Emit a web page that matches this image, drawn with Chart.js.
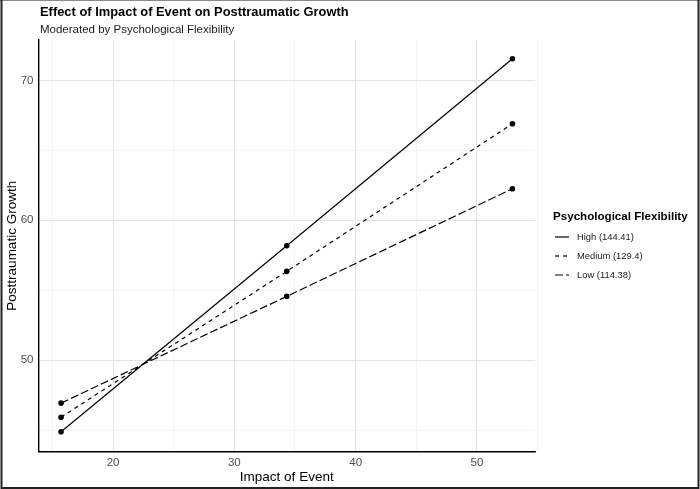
<!DOCTYPE html>
<html>
<head>
<meta charset="utf-8">
<script src="https://cdn.jsdelivr.net/npm/chart.js@4/dist/chart.umd.min.js"></script>
<style>
  html, body { margin: 0; padding: 0; background: #fff; }
  #wrap { width: 700px; height: 489px; position: relative; }
</style>
</head>
<body>
<div id="wrap"><canvas id="c" width="700" height="489"></canvas></div>
<script>
// ---- data ----
const impactLevels = [15.71, 34.32, 52.93];
const seriesNames = ['High (144.41)', 'Medium (129.4)', 'Low (114.38)'];
const highValues = [44.88, 58.18, 71.55];
const mediumValues = [45.92, 56.35, 66.90];
const lowValues = [46.93, 54.56, 62.26];
const xGridTicks = [15, 20, 25, 30, 35, 40, 45, 50, 55];
const xTickLabels = [20, 30, 40, 50];
const yGridTicks = [45, 50, 55, 60, 65, 70];
const yTickLabels = [50, 60, 70];
const chartTitle = 'Effect of Impact of Event on Posttraumatic Growth';
const chartSubtitle = 'Moderated by Psychological Flexibility';
const legendTitle = 'Psychological Flexibility';
const xTitle = 'Impact of Event';
const yTitle = 'Posttraumatic Growth';

const FONT = "'Liberation Sans', Arial, Helvetica, sans-serif";
const dashes = [[], [4, 4], [8, 3]];
const seriesValues = [highValues, mediumValues, lowValues];

const datasets = seriesValues.map((vals, i) => ({
  label: seriesNames[i],
  data: impactLevels.map((x, j) => ({ x: x, y: vals[j] })),
  borderColor: '#000',
  backgroundColor: '#000',
  borderWidth: 1.2,
  borderDash: dashes[i],
  pointRadius: 2.8,
  pointHoverRadius: 2.8,
  pointBorderWidth: 0,
  pointBackgroundColor: '#000',
  showLine: true,
  fill: false,
  tension: 0
}));

const gridColor = ctx => (ctx.tick && ctx.tick.value % 10 === 0) ? '#e4e4e4' : '#efefef';
const gridWidth = ctx => (ctx.tick && ctx.tick.value % 10 === 0) ? 1 : 0.7;

const decorPlugin = {
  id: 'decor',
  afterDraw(chart) {
    const ctx = chart.ctx;
    ctx.save();
    // titles
    ctx.fillStyle = '#000';
    ctx.textAlign = 'left';
    ctx.textBaseline = 'alphabetic';
    ctx.font = 'bold 12.9px ' + FONT;
    ctx.fillText(chartTitle, 40, 15.5);
    ctx.font = '11.5px ' + FONT;
    ctx.fillStyle = '#1a1a1a';
    ctx.fillText(chartSubtitle, 40, 32.5);

    // legend
    ctx.fillStyle = '#000';
    ctx.font = 'bold 11.6px ' + FONT;
    ctx.fillText(legendTitle, 553, 219.5);
    const ys = [237, 256, 275];
    ctx.font = '9.4px ' + FONT;
    ctx.textBaseline = 'middle';
    seriesNames.forEach((name, i) => {
      ctx.beginPath();
      ctx.setLineDash(dashes[i]);
      ctx.lineWidth = 1.2;
      ctx.strokeStyle = '#000';
      ctx.moveTo(555, ys[i]);
      ctx.lineTo(569, ys[i]);
      ctx.stroke();
      ctx.setLineDash([]);
      ctx.fillStyle = '#1a1a1a';
      ctx.fillText(name, 577, ys[i]);
    });

    // outer frame
    ctx.setLineDash([]);
    ctx.strokeStyle = '#8a8a8a';
    ctx.lineWidth = 1;
    ctx.beginPath();
    ctx.moveTo(0, 0.5); ctx.lineTo(700, 0.5);
    ctx.stroke();
    ctx.strokeStyle = '#222';
    ctx.lineWidth = 2;
    ctx.beginPath();
    ctx.moveTo(1.5, 0); ctx.lineTo(1.5, 488);
    ctx.lineTo(698.5, 488); ctx.lineTo(698.5, 0);
    ctx.stroke();
    ctx.restore();
  }
};

new Chart(document.getElementById('c'), {
  type: 'scatter',
  data: { datasets: datasets },
  options: {
    responsive: false,
    animation: false,
    devicePixelRatio: 1,
    layout: { padding: { left: 0, top: 40, right: 165, bottom: 0 } },
    plugins: { legend: { display: false }, title: { display: false }, tooltip: { enabled: false } },
    scales: {
      x: {
        type: 'linear',
        min: 13.85,
        max: 54.79,
        afterFit: s => { s.height = 37.5; },
        afterBuildTicks: s => { s.ticks = xGridTicks.map(v => ({ value: v })); },
        grid: { color: gridColor, lineWidth: gridWidth, drawTicks: false },
        border: { display: true, color: '#000', width: 1.4 },
        ticks: {
          padding: 4.5,
          color: '#4d4d4d',
          font: { family: FONT, size: 11.5 },
          autoSkip: false,
          maxRotation: 0,
          callback: v => xTickLabels.includes(v) ? String(v) : ''
        },
        title: {
          display: true, text: xTitle, color: '#000',
          font: { family: FONT, size: 13.5 },
          padding: { top: 0, bottom: 4 }
        }
      },
      y: {
        type: 'linear',
        min: 43.47,
        max: 72.89,
        afterFit: s => { s.width = 38.5; },
        afterBuildTicks: s => { s.ticks = yGridTicks.map(v => ({ value: v })); },
        grid: { color: gridColor, lineWidth: gridWidth, drawTicks: false },
        border: { display: true, color: '#000', width: 1.4 },
        ticks: {
          padding: 5,
          color: '#4d4d4d',
          font: { family: FONT, size: 11.5 },
          autoSkip: false,
          callback: v => yTickLabels.includes(v) ? String(v) : ''
        },
        title: {
          display: true, text: yTitle, color: '#000',
          font: { family: FONT, size: 13.5 },
          padding: { top: 4.5, bottom: 0 }
        }
      }
    }
  },
  plugins: [decorPlugin]
});
</script>
</body>
</html>
